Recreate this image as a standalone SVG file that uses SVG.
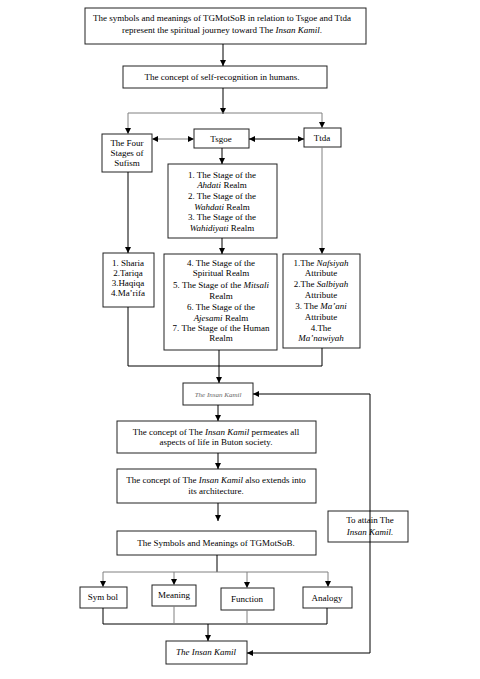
<svg xmlns="http://www.w3.org/2000/svg" width="480" height="679" viewBox="0 0 480 679">
<style>
.box{fill:#fff;stroke:#222;stroke-width:1}
.t{font-family:"Liberation Serif","Times New Roman",serif;font-size:9px;fill:#000;text-anchor:middle}
.i{font-style:italic}
.c{fill:none;stroke:#000;stroke-width:1}
.g{stroke:#808080}
.ik{font-family:"Liberation Serif","Times New Roman",serif;font-size:7px;font-style:italic;fill:#666;text-anchor:middle}
</style>
<defs>
<marker id="a" markerUnits="userSpaceOnUse" markerWidth="7" markerHeight="7" refX="6" refY="3" orient="auto-start-reverse">
<path d="M0,0 L6,3 L0,6 z" fill="#000"/>
</marker>
</defs>
<rect width="480" height="679" fill="#fff"/>
<g id="title">
<rect class="box" x="85" y="8" width="281" height="36"/>
<text class="t" x="222" y="21" font-size="9.6">The symbols and meanings of TGMotSoB in relation to Tsgoe and Ttda</text>
<text class="t" x="222" y="33" font-size="9.6">represent the spiritual journey toward The <tspan class="i">Insan Kamil</tspan>.</text>
</g>
<g id="concept">
<rect class="box" x="123" y="66" width="204" height="22"/>
<text class="t" x="222" y="80">The concept of self-recognition in humans.</text>
</g>
<g id="fourstages">
<rect class="box" x="102" y="134" width="50" height="38"/>
<text class="t" x="127" y="146">The Four</text>
<text class="t" x="127" y="156">Stages of</text>
<text class="t" x="127" y="166">Sufism</text>
</g>
<g id="tsgoe">
<rect class="box" x="194" y="129" width="55" height="19"/>
<text class="t" x="221" y="142">Tsgoe</text>
</g>
<g id="ttda">
<rect class="box" x="304" y="128" width="37" height="19"/>
<text class="t" x="322" y="141">Ttda</text>
</g>
<g id="stages13">
<rect class="box" x="168" y="164" width="109" height="74"/>
<text class="t" x="222" y="178">1. The Stage of the</text>
<text class="t" x="222" y="188"><tspan class="i">Ahdati</tspan> Realm</text>
<text class="t" x="222" y="199">2. The Stage of the</text>
<text class="t" x="222" y="210"><tspan class="i">Wahdati</tspan> Realm</text>
<text class="t" x="222" y="220">3. The Stage of the</text>
<text class="t" x="222" y="231"><tspan class="i">Wahidiyati</tspan> Realm</text>
</g>
<g id="sharia">
<rect class="box" x="103" y="253" width="51" height="54"/>
<text class="t" x="128" y="266">1. Sharia</text>
<text class="t" x="128" y="276">2.Tariqa</text>
<text class="t" x="128" y="286">3.Haqiqa</text>
<text class="t" x="128" y="296">4.Ma’rifa</text>
</g>
<g id="stages47">
<rect class="box" x="164" y="254" width="113" height="96"/>
<text class="t" x="221" y="266">4. The Stage of the</text>
<text class="t" x="221" y="276">Spiritual Realm</text>
<text class="t" x="221" y="288">5. The Stage of the <tspan class="i">Mitsali</tspan></text>
<text class="t" x="221" y="299">Realm</text>
<text class="t" x="221" y="310">6. The Stage of the</text>
<text class="t" x="221" y="321"><tspan class="i">Ajesami</tspan> Realm</text>
<text class="t" x="221" y="331">7. The Stage of the Human</text>
<text class="t" x="221" y="341">Realm</text>
</g>
<g id="attributes">
<rect class="box" x="283" y="254" width="77" height="94"/>
<text class="t" x="321" y="266">1.The <tspan class="i">Nafsiyah</tspan></text>
<text class="t" x="321" y="276">Attribute</text>
<text class="t" x="321" y="287">2.The <tspan class="i">Salbiyah</tspan></text>
<text class="t" x="321" y="298">Attribute</text>
<text class="t" x="321" y="309">3. The <tspan class="i">Ma’ani</tspan></text>
<text class="t" x="321" y="320">Attribute</text>
<text class="t" x="321" y="331">4.The</text>
<text class="t" x="321" y="341"><tspan class="i">Ma’nawiyah</tspan></text>
</g>
<g id="insankamil1">
<rect class="box" x="183" y="383" width="70" height="22"/>
<text class="ik" x="218" y="397">The Insan Kamil</text>
</g>
<g id="permeates">
<rect class="box" x="117" y="421" width="199" height="32"/>
<text class="t" x="216" y="435">The concept of The <tspan class="i">Insan Kamil</tspan> permeates all</text>
<text class="t" x="216" y="445">aspects of life in Buton society.</text>
</g>
<g id="extends">
<rect class="box" x="117" y="469" width="199" height="34"/>
<text class="t" x="216" y="483">The concept of The <tspan class="i">Insan Kamil</tspan> also extends into</text>
<text class="t" x="216" y="494">its architecture.</text>
</g>
<g id="symbolsmeanings">
<rect class="box" x="117" y="531" width="199" height="24"/>
<text class="t" x="216" y="546">The Symbols and Meanings of TGMotSoB.</text>
</g>
<g id="symbol">
<rect class="box" x="80" y="587" width="47" height="21"/>
<text class="t" x="103" y="600">Sym bol</text>
</g>
<g id="meaning">
<rect class="box" x="152" y="585" width="44" height="21"/>
<text class="t" x="174" y="598">Meaning</text>
</g>
<g id="function">
<rect class="box" x="221" y="588" width="53" height="22"/>
<text class="t" x="247" y="602">Function</text>
</g>
<g id="analogy">
<rect class="box" x="303" y="587" width="49" height="21"/>
<text class="t" x="327" y="601">Analogy</text>
</g>
<g id="insankamil2">
<rect class="box" x="166" y="641" width="81" height="23"/>
<text class="t i" x="206" y="655">The Insan Kamil</text>
</g>
<g id="attain">
<rect class="box" x="328" y="511" width="80" height="31"/>
<text class="t" x="370" y="523">To attain The</text>
<text class="t i" x="370" y="535">Insan Kamil.</text>
</g>
<g id="connectors">
<path class="c" d="M223,44 V66" marker-end="url(#a)"/>
<path class="c" d="M223,88 V114" marker-end="url(#a)"/>
<path class="c g" d="M128,113 H322"/>
<path class="c g" d="M128,113 V134" marker-end="url(#a)"/>
<path class="c g" d="M322,113 V128" marker-end="url(#a)"/>
<path class="c g" d="M152,139 H194" marker-start="url(#a)" marker-end="url(#a)"/>
<path class="c" d="M249,139 H304" marker-start="url(#a)" marker-end="url(#a)"/>
<path class="c" d="M222,148 V164" marker-end="url(#a)"/>
<path class="c" d="M128,172 V253" marker-end="url(#a)"/>
<path class="c" d="M222,238 V254" marker-end="url(#a)"/>
<path class="c g" d="M322,147 V254" marker-end="url(#a)"/>
<path class="c" d="M128,307 V366 H322 V348"/>
<path class="c" d="M219,350 V383" marker-end="url(#a)"/>
<path class="c" d="M218,405 V421" marker-end="url(#a)"/>
<path class="c" d="M218,453 V469" marker-end="url(#a)"/>
<path class="c" d="M218,503 V521" marker-end="url(#a)"/>
<path class="c" d="M217,555 V572"/>
<path class="c g" d="M103,572 H328"/>
<path class="c g" d="M103,572 V587" marker-end="url(#a)"/>
<path class="c g" d="M174,572 V585" marker-end="url(#a)"/>
<path class="c g" d="M247,572 V588" marker-end="url(#a)"/>
<path class="c g" d="M328,572 V587" marker-end="url(#a)"/>
<path class="c" d="M103,608 V624 H327 V608"/>
<path class="c g" d="M174,606 V624"/>
<path class="c g" d="M247,610 V624"/>
<path class="c" d="M208,624 V641" marker-end="url(#a)"/>
<path class="c" d="M370,653 V394 H253" marker-end="url(#a)"/>
<path class="c" d="M370,653 H247" marker-end="url(#a)"/>
</g>
</svg>
